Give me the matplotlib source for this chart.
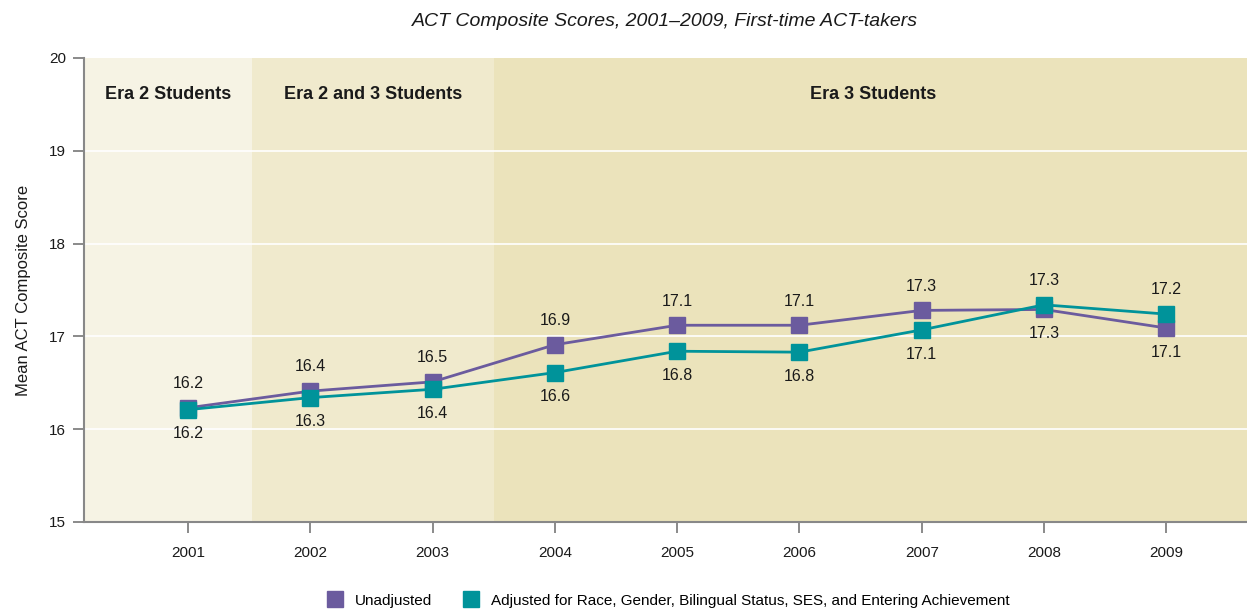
import matplotlib.pyplot as plt
from matplotlib.lines import Line2D

years = [2001, 2002, 2003, 2004, 2005, 2006, 2007, 2008, 2009]
unadjusted = [16.23, 16.41, 16.51, 16.91, 17.12, 17.12, 17.28, 17.29, 17.09]
adjusted = [16.21, 16.34, 16.43, 16.61, 16.84, 16.83, 17.07, 17.34, 17.24]
unadj_labels = ['16.2', '16.4', '16.5', '16.9', '17.1', '17.1', '17.3', '17.3', '17.1']
adj_labels = ['16.2', '16.3', '16.4', '16.6', '16.8', '16.8', '17.1', '17.3', '17.2']

eras = ['Era 2 Students', 'Era 2 and 3 Students', 'Era 3 Students']
era_bounds = [(2000.15, 2001.52), (2001.52, 2003.5), (2003.5, 2009.7)]
era_colors = ['#f6f3e4', '#f0eacd', '#ebe3bb']

purple = '#6b5b9e'
teal = '#00939a'

plt.rcParams['font.family'] = ['Liberation Sans', 'DejaVu Sans']

fig = plt.figure(figsize=(12.47, 6.11), dpi=100)
ax = fig.add_axes([0.0674, 0.1457, 0.9326, 0.7594])

for (a, b), c, name in zip(era_bounds, era_colors, eras):
    ax.axvspan(a, b, color=c, zorder=0, lw=0)
    ax.text((a + b) / 2, 19.61, name, ha='center', va='center',
            fontsize=13, fontweight='bold', color='#1a1a1a')

for yv in range(16, 20):
    ax.axhline(yv, color='white', lw=1.2, zorder=1)

ax.plot(years, unadjusted, color=purple, lw=2, marker='s', ms=11.5, zorder=3)
ax.plot(years, adjusted, color=teal, lw=2, marker='s', ms=11.5, zorder=4)

for x, u, a, ul, al in zip(years, unadjusted, adjusted, unadj_labels, adj_labels):
    if u >= a:
        up, dn = (u, ul), (a, al)
    else:
        up, dn = (a, al), (u, ul)
    ax.annotate(up[1], (x, up[0]), xytext=(0, 12), textcoords='offset points',
                ha='center', va='bottom', fontsize=11.5, color='#1a1a1a')
    ax.annotate(dn[1], (x, dn[0]), xytext=(0, -12), textcoords='offset points',
                ha='center', va='top', fontsize=11.5, color='#1a1a1a')

ax.set_xlim(2000.15, 2009.66)
ax.set_ylim(15, 20)
ax.set_xticks(years)
ax.set_yticks(range(15, 21))
ax.tick_params(axis='both', colors='#1a1a1a', labelsize=11, length=8, width=1.2,
               direction='out')
ax.tick_params(axis='x', color='#777777', pad=9)
ax.tick_params(axis='y', color='#777777', pad=5)
for s in ['top', 'right']:
    ax.spines[s].set_visible(False)
for s in ['left', 'bottom']:
    ax.spines[s].set_color('#888888')
    ax.spines[s].set_linewidth(1.5)

ax.set_ylabel('Mean ACT Composite Score', fontsize=12, labelpad=13, color='#1a1a1a')
fig.text(0.533, 0.965, 'ACT Composite Scores, 2001\u20132009, First-time ACT-takers',
         ha='center', va='center', fontsize=14, style='italic', color='#1a1a1a')

handles = [Line2D([], [], color=purple, marker='s', ms=11, ls=''),
           Line2D([], [], color=teal, marker='s', ms=11, ls='')]
fig.legend(handles, ['Unadjusted',
                     'Adjusted for Race, Gender, Bilingual Status, SES, and Entering Achievement'],
           loc='center', bbox_to_anchor=(0.533, 0.017), ncol=2, frameon=False,
           fontsize=11, handletextpad=0.3, columnspacing=1.5)

fig.savefig('out.png', dpi=100)
